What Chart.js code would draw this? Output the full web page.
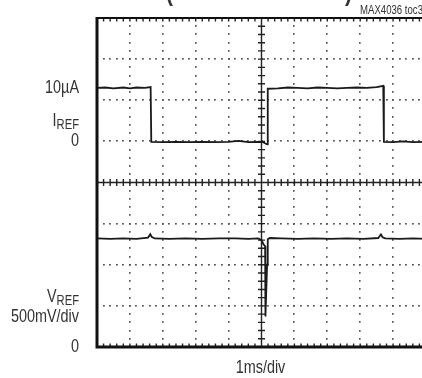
<!DOCTYPE html>
<html>
<head>
<meta charset="utf-8">
<script src="https://cdn.jsdelivr.net/npm/chart.js@4.4.0/dist/chart.umd.min.js"></script>
<style>
html, body { margin: 0; padding: 0; background: #fff; overflow: hidden; }
#wrap { width: 440px; height: 378px; }
</style>
</head>
<body>
<div id="wrap"><canvas id="chart" width="440" height="378"></canvas></div>
<script>
const FONT = '"Liberation Sans", Arial, sans-serif'
const NARROW = 0.8

// time axis in divisions (1ms/div), screen levels in divisions from the bottom
const irefTime = [0, 0.25, 0.5, 0.8, 1.0, 1.2, 1.45, 1.63, 1.65, 2.0,
    2.4, 2.8, 3.2, 3.6, 4.0, 4.3, 4.6, 4.9, 5.05, 5.12,
    5.17, 5.19, 5.5, 5.8, 6.1, 6.4, 6.7, 7.0, 7.3, 7.6,
    7.9, 8.2, 8.5, 8.70, 8.72, 9.0, 9.3, 9.6, 10]
const irefLevel = [6.30, 6.31, 6.29, 6.31, 6.29, 6.31, 6.30, 6.32, 4.99, 4.98,
    4.99, 4.98, 4.99, 4.98, 4.99, 5.01, 4.98, 4.99, 4.98, 4.95,
    4.93, 6.28, 6.29, 6.31, 6.30, 6.29, 6.31, 6.30, 6.29, 6.30,
    6.31, 6.30, 6.32, 6.35, 4.99, 4.98, 5.0, 4.98, 4.99]

const vrefTime = [0, 0.4, 0.8, 1.2, 1.55, 1.62, 1.66, 1.75, 2.2, 2.7,
    3.2, 3.7, 4.2, 4.6, 4.9, 5.0, 5.06, 5.11, 5.12, 5.17,
    5.19, 5.25, 5.6, 6.1, 6.6, 7.1, 7.6, 8.1, 8.55, 8.63,
    8.68, 8.76, 9.2, 9.6, 10]
const vrefLevel = [2.64, 2.63, 2.64, 2.63, 2.66, 2.74, 2.68, 2.64, 2.63, 2.64,
    2.63, 2.64, 2.64, 2.63, 2.64, 2.60, 2.50, 2.45, 0.74, 2.0,
    2.62, 2.65, 2.64, 2.63, 2.64, 2.63, 2.64, 2.63, 2.65, 2.74,
    2.67, 2.64, 2.63, 2.64, 2.63]

const irefLabels = ["10µA", "I", "REF", "0"]
const vrefLabels = ["V", "REF", "500mV/div", "0"]
const xLabel = "1ms/div"
const figNote = "MAX4036 toc3-"

const toPoints = (xs, ys) => xs.map((x, i) => ({ x: x, y: ys[i] }))

// condensed text: regular font squeezed horizontally
function narrowText(ctx, text, x, y, size, align, weight) {
    ctx.save()
    ctx.font = (weight || "") + " " + size + "px " + FONT
    const w = ctx.measureText(text).width * NARROW
    let left = x
    if (align === "right") left = x - w
    if (align === "center") left = x - w / 2
    ctx.translate(left, y)
    ctx.scale(NARROW, 1)
    ctx.textAlign = "left"
    ctx.fillText(text, 0, 0)
    ctx.restore()
    return w
}

const scopePlugin = {
    id: "scope",
    beforeDatasetsDraw(chart) {
        const { ctx, chartArea: a, scales: { x, y } } = chart
        ctx.save()
        ctx.fillStyle = "#555"
        // dotted graticule
        for (let i = 1; i < 10; i++) {
            if (i === 5) continue
            const px = x.getPixelForValue(i)
            for (let j = 1; j < 40; j++) {
                ctx.fillRect(Math.round(px) - 1, Math.round(y.getPixelForValue(j * 0.2)) - 1, 1.6, 1.8)
            }
        }
        for (let i = 1; i < 8; i++) {
            if (i === 4) continue
            const py = y.getPixelForValue(i)
            for (let j = 1; j < 52; j++) {
                ctx.fillRect(Math.round(x.getPixelForValue(j * 0.2)) - 1, Math.round(py) - 1, 1.8, 1.6)
            }
        }
        // centre cross with minor ticks
        ctx.strokeStyle = "#222"
        ctx.lineWidth = 1.4
        const cx = x.getPixelForValue(5)
        const cy = y.getPixelForValue(4)
        ctx.beginPath()
        ctx.moveTo(cx, a.top); ctx.lineTo(cx, a.bottom)
        ctx.moveTo(a.left, cy); ctx.lineTo(a.right, cy)
        for (let j = 1; j < 40; j++) {
            const py = y.getPixelForValue(j * 0.2)
            ctx.moveTo(cx - 3.5, py); ctx.lineTo(cx + 3.5, py)
        }
        for (let j = 1; j < 52; j++) {
            const px = x.getPixelForValue(j * 0.2)
            ctx.moveTo(px, cy - 3.5); ctx.lineTo(px, cy + 3.5)
            ctx.moveTo(px, a.top); ctx.lineTo(px, a.top + 3.5)
            ctx.moveTo(px, a.bottom); ctx.lineTo(px, a.bottom - 3.5)
        }
        ctx.stroke()
        ctx.restore()
    },
    afterDraw(chart) {
        const { ctx, chartArea: a, scales: { y } } = chart
        ctx.save()
        ctx.strokeStyle = "#111"
        ctx.lineWidth = 2
        ctx.beginPath()
        ctx.moveTo(a.left, a.top); ctx.lineTo(a.right, a.top)
        ctx.stroke()
        ctx.lineWidth = 3
        ctx.beginPath()
        ctx.moveTo(a.left, a.top - 1); ctx.lineTo(a.left, a.bottom)
        ctx.lineTo(a.right, a.bottom)
        ctx.stroke()

        ctx.fillStyle = "#333"
        ctx.textBaseline = "middle"
        const rx = a.left - 18
        narrowText(ctx, irefLabels[0], rx, y.getPixelForValue(6.3), 18, "right")
        narrowText(ctx, irefLabels[3], rx, y.getPixelForValue(5), 18, "right")
        narrowText(ctx, vrefLabels[2], rx, y.getPixelForValue(0.72), 18, "right")
        narrowText(ctx, vrefLabels[3], rx, a.bottom, 18, "right")
        // subscripted channel names
        ctx.textBaseline = "alphabetic"
        const subW = narrowText(ctx, irefLabels[2], rx, 129, 14, "right")
        narrowText(ctx, vrefLabels[1], rx, 305, 14, "right")
        narrowText(ctx, irefLabels[1], rx - subW, 126, 18, "right")
        narrowText(ctx, vrefLabels[0], rx - subW, 302, 18, "right")

        ctx.textBaseline = "middle"
        narrowText(ctx, xLabel, (a.left + a.right) / 2 - 1, 368, 18, "center")

        ctx.textBaseline = "alphabetic"
        narrowText(ctx, figNote, 360, 14, 12, "left")

        narrowText(ctx, "(", 166, 1, 26, "left", "bold")
        narrowText(ctx, ")", 345, 1, 26, "left", "bold")
        ctx.restore()
    }
}

new Chart(document.getElementById("chart"), {
    type: "line",
    data: {
        datasets: [{
            label: "IREF",
            data: toPoints(irefTime, irefLevel),
        }, {
            label: "VREF",
            data: toPoints(vrefTime, vrefLevel),
        }]
    },
    options: {
        responsive: false,
        animation: false,
        devicePixelRatio: 1,
        layout: { padding: { left: 97, top: 18, right: 14, bottom: 31 } },
        elements: {
            line: { borderColor: "#1a1a1a", borderWidth: 1.8, tension: 0 },
            point: { radius: 0 },
        },
        scales: {
            x: { type: "linear", min: 0, max: 10, display: false },
            y: { min: 0, max: 8, display: false },
        },
        plugins: {
            legend: { display: false },
            tooltip: { enabled: false },
        },
    },
    plugins: [scopePlugin],
})
</script>
</body>
</html>
